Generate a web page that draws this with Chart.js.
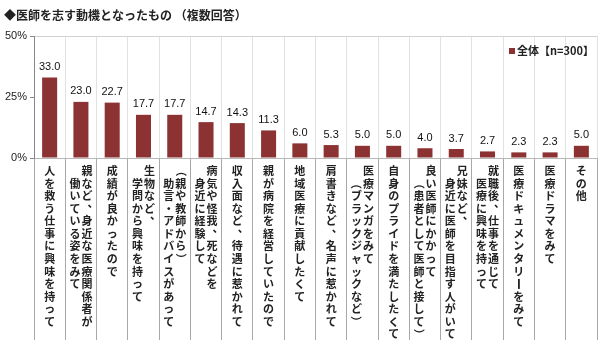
<!DOCTYPE html>
<html lang="ja">
<head>
<meta charset="UTF-8">
<title>医師を志す動機となったもの</title>
<script src="https://cdn.jsdelivr.net/npm/chart.js"></script>
<style>
  html, body { margin: 0; padding: 0; background: #fff; }
  #wrap { width: 600px; height: 343px; position: relative; }
</style>
</head>
<body>
<div id="wrap"><canvas id="chart"></canvas></div>
<script>
// カテゴリ（縦書き、1列目が右、2列目が左）
const categories = [
  ['人を救う仕事に興味を持って'],
  ['親など、身近な医療関係者が', '働いている姿をみて'],
  ['成績が良かったので'],
  ['生物など、', '学問から興味を持って'],
  ['（親や教師から）', '助言・アドバイスがあって'],
  ['病気や怪我、死などを', '身近に経験して'],
  ['収入面など、待遇に惹かれて'],
  ['親が病院を経営していたので'],
  ['地域医療に貢献したくて'],
  ['肩書きなど、名声に惹かれて'],
  ['医療マンガをみて', '（ブラックジャックなど）'],
  ['自身のプライドを満たしたくて'],
  ['良い医師にかかって', '（患者として医師と接して）'],
  ['兄妹など、', '身近に医師を目指す人がいて'],
  ['就職後、仕事を通じて', '医療に興味を持って'],
  ['医療ドキュメンタリーをみて'],
  ['医療ドラマをみて'],
  ['その他']
];
const values = [33.0, 23.0, 22.7, 17.7, 17.7, 14.7, 14.3, 11.3, 6.0, 5.3, 5.0, 5.0, 4.0, 3.7, 2.7, 2.3, 2.3, 5.0];
const yTicks = [0, 25, 50];
const seriesName = '全体【n=300】';
const titleText = '◆医師を志す動機となったもの （複数回答）';

const FONT = '"Noto Sans CJK JP", "Noto Sans", sans-serif';
const BAR = '#8c3232';

// 縦書きラベル・数値・凡例・タイトルを描く
const drawExtras = {
  id: 'drawExtras',
  afterDraw(chart) {
    const ctx = chart.ctx;
    const x = chart.scales.x, y = chart.scales.y;
    ctx.save();
    // タイトル
    ctx.fillStyle = '#222';
    ctx.font = 'bold 12px ' + FONT;
    ctx.textBaseline = 'middle';
    ctx.textAlign = 'left';
    ctx.fillText(titleText, 4, 15);

    // 数値ラベル
    ctx.font = '11px "Liberation Sans", Arial, sans-serif';
    ctx.textAlign = 'center';
    ctx.textBaseline = 'bottom';
    ctx.fillStyle = '#111';
    values.forEach((v, i) => {
      ctx.fillText(v.toFixed(1), x.getPixelForValue(i), y.getPixelForValue(v) - 5);
    });

    // 縦書きカテゴリ
    ctx.font = 'bold 11px ' + FONT;
    ctx.textAlign = 'center';
    ctx.textBaseline = 'middle';
    ctx.fillStyle = '#222';
    const step = 12.55, colGap = 12, top = y.bottom + 13;
    categories.forEach((lines, i) => {
      const cx = x.getPixelForValue(i);
      const n = lines.length;
      lines.forEach((line, j) => {
        const colX = cx + ((n - 1) / 2 - j) * colGap;
        const offY = j > 0 ? step : 0;
        [...line].forEach((ch, k) => {
          const py = top + offY + k * step;
          if ('（）'.includes(ch)) {
            ctx.save();
            ctx.translate(colX, py);
            ctx.rotate(Math.PI / 2);
            ctx.fillText(ch, 0, 0);
            ctx.restore();
          } else if ('、'.includes(ch)) {
            ctx.fillText(ch, colX + 6, py - 6);
          } else if ('ー'.includes(ch)) {
            ctx.fillRect(colX - 0.8, py - 5, 1.8, 10);
          } else {
            ctx.fillText(ch, colX, py);
          }
        });
      });
    });

    // 凡例
    const lx = 509, ly = 51;
    ctx.fillStyle = BAR;
    ctx.fillRect(lx, ly - 3, 6, 6);
    ctx.fillStyle = '#222';
    ctx.font = 'bold 11px ' + FONT;
    ctx.textAlign = 'left';
    ctx.fillText(seriesName, lx + 8, ly);
    ctx.restore();
  }
};

new Chart(document.getElementById('chart'), {
  type: 'bar',
  data: {
    labels: categories.map(c => c.join('')),
    datasets: [{
      label: seriesName,
      data: values,
      backgroundColor: BAR,
      borderWidth: 0,
      barPercentage: 0.96,
      categoryPercentage: 0.5
    }]
  },
  options: {
    responsive: true,
    maintainAspectRatio: false,
    animation: false,
    layout: { padding: { top: 36, right: 3, left: 0, bottom: 0 } },
    plugins: { legend: { display: false }, tooltip: { enabled: false } },
    scales: {
      x: {
        grid: { color: '#e2e2e2', tickColor: '#a8a8a8', tickLength: 182, offset: true },
        border: { color: '#b8b8b8' },
        ticks: { display: false },
        afterFit(s) { s.height = 185; }
      },
      y: {
        min: 0, max: 50,
        afterBuildTicks(s) { s.ticks = yTicks.map(v => ({ value: v })); },
        grid: {
          color: ctx => ctx.tick && ctx.tick.value === 50 ? '#d0d0d0' : 'rgba(0,0,0,0)',
          tickColor: '#888', tickLength: 4
        },
        border: { color: '#888' },
        ticks: {
          color: '#222',
          font: { size: 11, family: '"Liberation Sans", Arial, sans-serif' },
          padding: 3,
          callback: v => v + '%'
        },
        afterFit(s) { s.width = 34; }
      }
    }
  },
  plugins: [drawExtras]
});
</script>
</body>
</html>
